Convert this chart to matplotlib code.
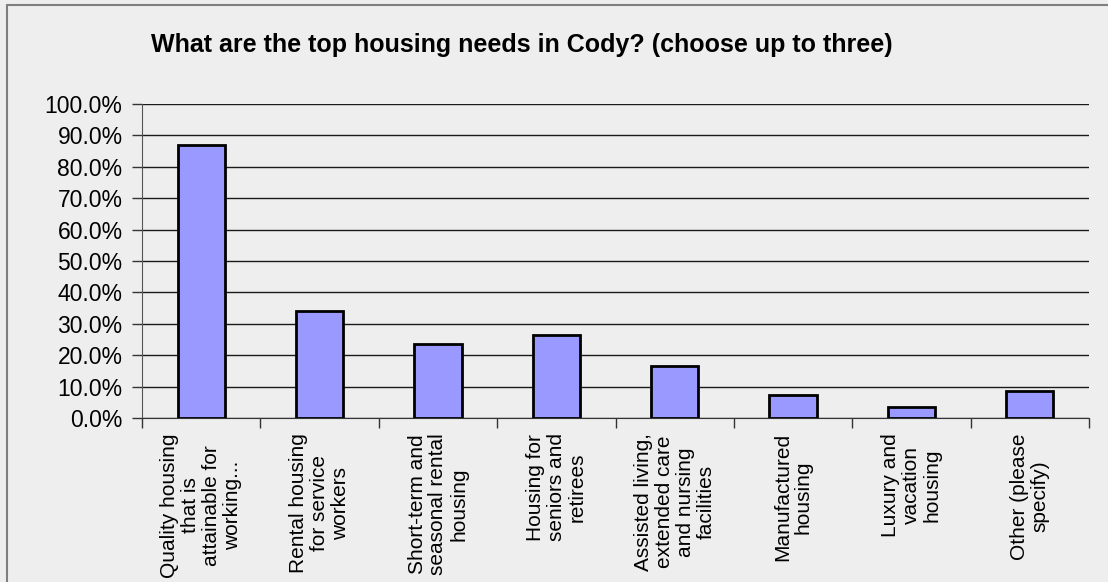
import matplotlib
matplotlib.use("Agg")
import matplotlib.pyplot as plt
from matplotlib.patches import Rectangle
from matplotlib.ticker import FixedLocator, PercentFormatter

categories = [
    "Quality housing\nthat is\nattainable for\nworking...",
    "Rental housing\nfor service\nworkers",
    "Short-term and\nseasonal rental\nhousing",
    "Housing for\nseniors and\nretirees",
    "Assisted living,\nextended care\nand nursing\nfacilities",
    "Manufactured\nhousing",
    "Luxury and\nvacation\nhousing",
    "Other (please\nspecify)",
]
shares = [86.9, 34.1, 23.6, 26.5, 16.7, 7.4, 3.6, 8.5]
y_ticks = [0, 10, 20, 30, 40, 50, 60, 70, 80, 90, 100]
title = "What are the top housing needs in Cody? (choose up to three)"

plt.rcParams["font.family"] = ["Liberation Sans", "DejaVu Sans"]

W, H = 1108, 582
fig = plt.figure(figsize=(W / 100, H / 100), dpi=100, facecolor="#eeeeee")

# outer frame of the chart object (only the top and left edges fall inside the image)
fig.patches.append(Rectangle((7 / W, -0.1), 1.2, (H - 5) / H + 0.1,
                             transform=fig.transFigure, fill=False,
                             edgecolor="#7f7f7f", linewidth=1.5))

ax = fig.add_axes([142 / W, 1 - 418 / H, (1089 - 142) / W, (418 - 104) / H])
ax.set_facecolor("#eeeeee")

x = range(len(categories))
ax.bar(x, shares, width=0.4, color="#9999ff", edgecolor="black",
       linewidth=2, zorder=3)

ax.set_xlim(-0.5, len(categories) - 0.5)
ax.set_ylim(0, 100)
ax.set_yticks(y_ticks)
ax.yaxis.set_major_formatter(PercentFormatter(100, decimals=1))
ax.grid(axis="y", color="#1a1a1a", linewidth=1, zorder=1)

ax.set_xticks(list(x))
ax.set_xticklabels(categories, rotation=90, ha="center", va="top",
                   multialignment="center", fontsize=15, linespacing=1.12)
ax.tick_params(axis="x", length=0, pad=11)
ax.xaxis.set_minor_locator(FixedLocator([i - 0.5 for i in range(len(categories) + 1)]))
ax.tick_params(axis="x", which="minor", length=7, width=1, color="#333333")
ax.tick_params(axis="y", length=7, width=1, color="#333333", labelsize=16.5, pad=7)

for side in ("top", "right"):
    ax.spines[side].set_visible(False)
ax.spines["left"].set_color("#555555")
ax.spines["bottom"].set_color("#333333")

fig.text(522 / W, 1 - 45 / H, title, ha="center", va="center",
         fontsize=18, fontweight="bold")

fig.savefig("out.png", dpi=100, facecolor=fig.get_facecolor())
